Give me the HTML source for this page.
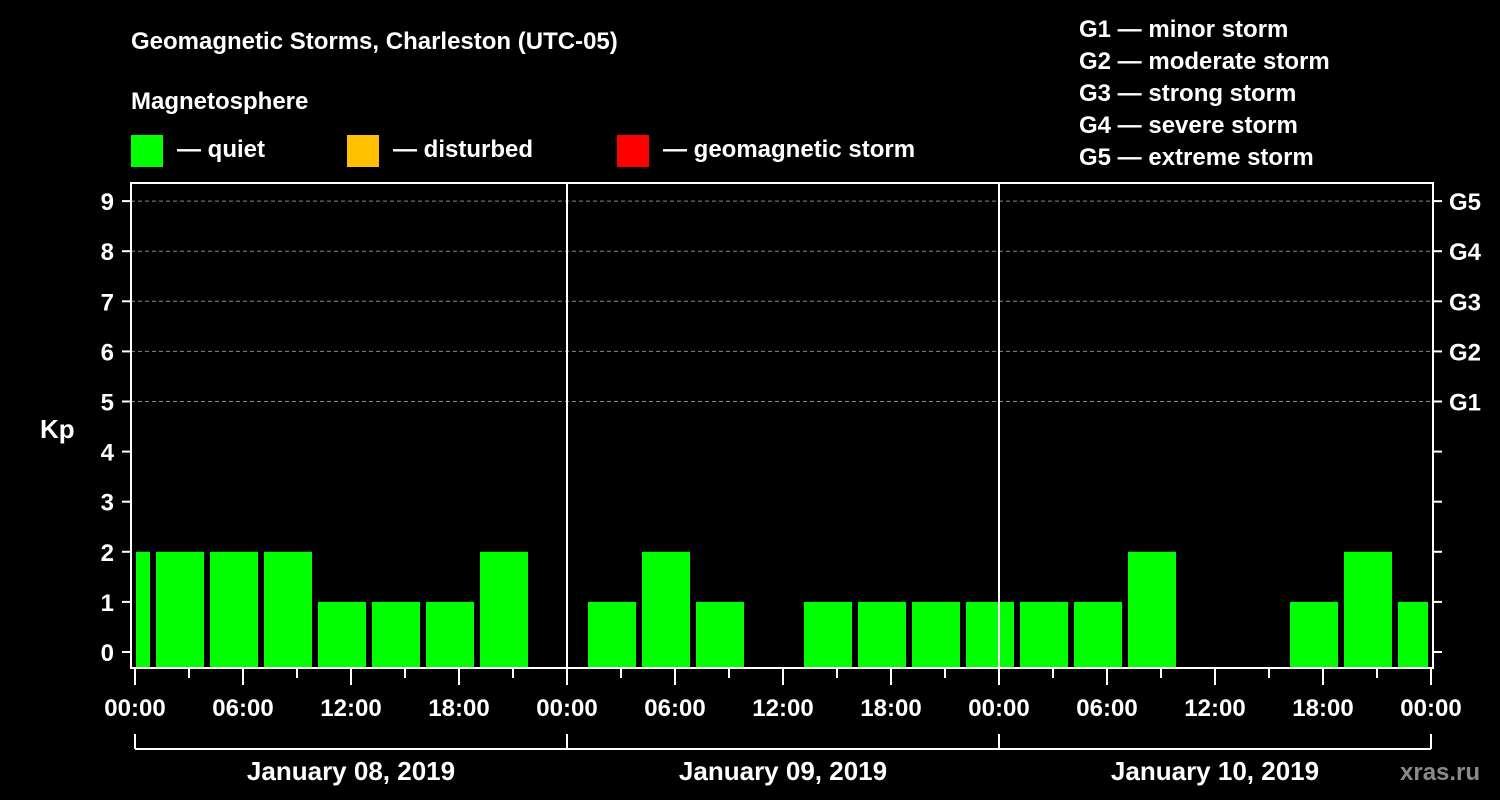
<!DOCTYPE html>
<html><head><meta charset="utf-8"><style>
html,body{margin:0;padding:0;background:#000;width:1500px;height:800px;overflow:hidden}
svg text{font-family:"Liberation Sans",sans-serif;font-weight:bold;fill:#fff}
</style></head><body>
<svg id="chart" width="1500" height="800">
<text x="131" y="49" font-size="24">Geomagnetic Storms, Charleston (UTC-05)</text>
<text x="131" y="109" font-size="24">Magnetosphere</text>
<g><rect x="131" y="135" width="32" height="32" fill="#00ff00"/><text x="177" y="157" font-size="24">— quiet</text></g>
<g><rect x="347" y="135" width="32" height="32" fill="#ffc000"/><text x="393" y="157" font-size="24">— disturbed</text></g>
<g><rect x="617" y="135" width="32" height="32" fill="#ff0000"/><text x="663" y="157" font-size="24">— geomagnetic storm</text></g>
<g font-size="24">
<text x="1079" y="37">G1 — minor storm</text>
<text x="1079" y="69">G2 — moderate storm</text>
<text x="1079" y="101">G3 — strong storm</text>
<text x="1079" y="133">G4 — severe storm</text>
<text x="1079" y="165">G5 — extreme storm</text>
</g>
<text x="40" y="438" font-size="26">Kp</text>
<text x="1400" y="780" font-size="24" fill="#888" style="fill:#8a8a8a">xras.ru</text>
<g id="plot"></g>
</svg>
<script>
const kpValues=[2,2,2,2,1,1,1,2,0, 1,2,1,0,1,1,1,1, 1,1,2,0,0,1,2,1];
const yTicks=[0,1,2,3,4,5,6,7,8,9];
const gLabels=["G1","G2","G3","G4","G5"];
const xTickLabels=["00:00","06:00","12:00","18:00","00:00","06:00","12:00","18:00","00:00","06:00","12:00","18:00","00:00"];
const dayLabels=["January 08, 2019","January 09, 2019","January 10, 2019"];
const firstIntervalStart=-2; // hours, local time
const NS="http://www.w3.org/2000/svg";
const g=document.getElementById('plot');
const L=131,R=1433,T=183,B=668;
const x=h=>135+h*(1296/72);
const y=k=>652-k*50.1;
function mk(t,a){const e=document.createElementNS(NS,t);for(const k in a)e.setAttribute(k,a[k]);g.appendChild(e);return e;}
// grid
for(let k=5;k<=9;k++){const e=mk('line',{x1:L,x2:R,y1:y(k),y2:y(k),stroke:'#888','stroke-dasharray':'4,3','stroke-width':1});

}
// bars
kpValues.forEach((v,i)=>{if(v<=0)return;const h0=firstIntervalStart+3*i;
let x0=x(h0)+3,x1=x(h0+3)-3;x0=Math.max(x0,L+5);x1=Math.min(x1,R-5);
const e=mk('rect',{x:x0,y:y(v),width:x1-x0,height:B-1-y(v),fill:v>=5?'#ff0000':(v>=4?'#ffc000':'#00ff00')});

});
// day separators
[1,2].forEach(d=>{const e=mk('line',{x1:x(24*d),x2:x(24*d),y1:T,y2:B,stroke:'#fff','stroke-width':2});

});
// frame
const fr=mk('rect',{x:L,y:T,width:R-L,height:B-T,fill:'none',stroke:'#fff','stroke-width':2});


// y ticks
yTicks.forEach(k=>{mk('line',{x1:122,x2:L,y1:y(k),y2:y(k),stroke:'#fff','stroke-width':2});
mk('line',{x1:R,x2:1442,y1:y(k),y2:y(k),stroke:'#fff','stroke-width':2});
const t=mk('text',{x:114,y:y(k)+9,'font-size':24,'text-anchor':'end'});t.textContent=k;

});
gLabels.forEach((s,i)=>{const t=mk('text',{x:1449,y:y(5+i)+9,'font-size':24});t.textContent=s;

});
// x ticks every 3h
for(let h=0;h<=72;h+=3){const major=h%6===0;mk('line',{x1:x(h),x2:x(h),y1:B,y2:major?685:678,stroke:'#fff','stroke-width':2});}
xTickLabels.forEach((s,i)=>{const t=mk('text',{x:x(i*6),y:716,'font-size':24,'text-anchor':'middle'});t.textContent=s;

});
// day bracket
mk('line',{x1:x(0),x2:x(72),y1:749,y2:749,stroke:'#fff','stroke-width':2});
for(let d=0;d<=3;d++)mk('line',{x1:x(24*d),x2:x(24*d),y1:734,y2:749,stroke:'#fff','stroke-width':2});
dayLabels.forEach((s,i)=>{const t=mk('text',{x:x(24*i+12),y:780,'font-size':26,'text-anchor':'middle'});t.textContent=s;

});
</script>
</body></html>
